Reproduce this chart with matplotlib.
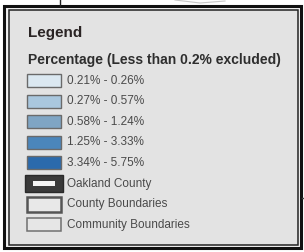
import matplotlib.pyplot as plt
from matplotlib.patches import Rectangle

plt.rcParams['font.family'] = ['Liberation Sans', 'DejaVu Sans']

legend_title = 'Legend'
subtitle = 'Percentage (Less than 0.2% excluded)'
class_labels = ['0.21% - 0.26%', '0.27% - 0.57%', '0.58% - 1.24%',
                '1.25% - 3.33%', '3.34% - 5.75%']
class_colors = ['#dbe8f1', '#a9c7de', '#7fa5c4', '#4b86bb', '#2b6aac']
boundary_labels = ['Oakland County', 'County Boundaries', 'Community Boundaries']

W, H = 304, 252
fig = plt.figure(figsize=(W / 100, H / 100), dpi=100)
ax = fig.add_axes([0, 0, 1, 1])
ax.set_xlim(0, W)
ax.set_ylim(H, 0)
ax.axis('off')
fig.patch.set_facecolor('white')

# bits of the map showing around the legend box
ax.plot([60, 60], [0, 6], color='#222222', lw=1.0)
ax.plot([175, 200, 225], [0, 3, 1], color='#c8c8c8', lw=0.8)
ax.plot([302, 304], [198, 198], color='#444444', lw=1.0)

# double frame and grey panel
ax.add_patch(Rectangle((4, 5.5), 296.5, 242, facecolor='#f2f2f2',
                       edgecolor='#111111', lw=2.2))
ax.add_patch(Rectangle((9, 10), 288.5, 234.5, facecolor='#e3e3e3',
                       edgecolor='#222222', lw=1.1))

ax.text(28, 33, legend_title, fontsize=11, fontweight='bold',
        color='#2a2424', va='center', ha='left')
ax.text(28, 60, subtitle, fontsize=10, fontweight='bold',
        color='#2e2e2e', va='center', ha='left')

y0, step = 80.5, 20.6
sw_x, sw_w, sw_h = 27, 34, 13
label_x = 67

for i, (lab, col) in enumerate(zip(class_labels, class_colors)):
    yc = y0 + i * step
    ax.add_patch(Rectangle((sw_x, yc - sw_h / 2), sw_w, sw_h,
                           facecolor=col, edgecolor='#6a6a6a', lw=1.0))
    ax.text(label_x, yc, lab, fontsize=8.5, color='#4a4a4a',
            va='center', ha='left')

n = len(class_labels)
for j, lab in enumerate(boundary_labels):
    yc = y0 + (n + j) * step
    if j == 0:
        ax.add_patch(Rectangle((sw_x - 2, yc - 8.5), sw_w + 4, 17,
                               facecolor='#3a3a3a', edgecolor='#2a2a2a', lw=1.0))
        ax.add_patch(Rectangle((sw_x + 6, yc - 2.5), sw_w - 12, 5,
                               facecolor='#f4f4f4', edgecolor='none'))
    elif j == 1:
        ax.add_patch(Rectangle((sw_x, yc - sw_h / 2 - 1), sw_w, sw_h + 2,
                               facecolor='#e8e8e8', edgecolor='#555555', lw=1.8))
    else:
        ax.add_patch(Rectangle((sw_x, yc - sw_h / 2), sw_w, sw_h,
                               facecolor='#e6e6e6', edgecolor='#707070', lw=1.1))
    ax.text(label_x, yc, lab, fontsize=8.5, color='#4a4a4a',
            va='center', ha='left')

plt.savefig('out.png', dpi=100)
